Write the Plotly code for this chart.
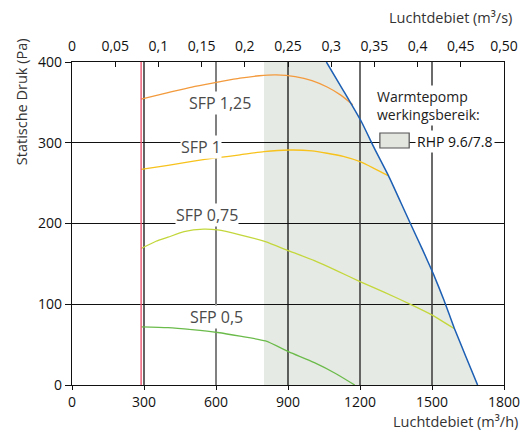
import plotly.graph_objects as go

# ---------------- data ----------------
x_ticks_h = [0, 300, 600, 900, 1200, 1500, 1800]
y_ticks = [0, 100, 200, 300, 400]
x_ticks_s = [0, 0.05, 0.1, 0.15, 0.2, 0.25, 0.3, 0.35, 0.4, 0.45, 0.5]
x_ticks_s_labels = ["0", "0,05", "0,1", "0,15", "0,2", "0,25", "0,3", "0,35", "0,4", "0,45", "0,50"]

grid_x = [300, 600, 900, 1200, 1500]

min_flow = 288

sfp125_x = [288, 400, 500, 607, 700, 780, 850, 930, 1000, 1063, 1120, 1170]
sfp125_y = [354, 362, 369, 375, 380, 383, 384, 382, 377, 369, 359, 347]

sfp1_x = [288, 400, 500, 607, 700, 800, 904, 1000, 1063, 1130, 1200, 1260, 1319]
sfp1_y = [267, 272, 277, 281.5, 285, 289, 291, 290, 287, 283, 276.5, 268, 259]

sfp075_x = [288, 350, 400, 467, 548, 607, 700, 806, 904, 1010, 1100, 1200, 1300, 1417, 1505, 1592]
sfp075_y = [169, 178, 183, 190, 193, 192, 186, 177.5, 166, 154, 142, 128, 115, 99, 86, 70]

sfp05_x = [288, 400, 500, 607, 700, 806, 904, 1010, 1100, 1178]
sfp05_y = [72, 71, 68.5, 65, 60.5, 54.5, 41, 27.6, 14, 0]

max_x = [1060, 1130, 1206, 1260, 1319, 1370, 1410, 1460, 1505, 1550, 1592, 1640, 1690]
max_y = [400, 365, 326, 293, 259, 226, 200, 168, 138, 105, 71, 36, 0]

hp_range_start = 800

sfp_labels = ["SFP 1,25", "SFP 1", "SFP 0,75", "SFP 0,5"]
sfp_label_x = [615, 537, 561, 604]
sfp_label_y = [349, 295, 211, 84]

legend_title = "Warmtepomp<br>werkingsbereik:"
legend_item = "RHP 9.6/7.8"

# ---------------- styles ----------------
FONT = "Open Sans"
TICK_SIZE = 14
col_sfp125 = "#f39a3c"
col_sfp1 = "#f7c21b"
col_sfp075 = "#c3d73c"
col_sfp05 = "#6bbb4b"
col_max = "#1c5fb4"
col_red = "#ea5670"
col_shade = "#e6eae4"
grid_colors = ["#111111", "#808080", "#111111", "#3a3a3a", "#3a3a3a"]
grid_widths = [1.3, 2, 1.3, 1.5, 1.5]

# page has an 8px body margin; figure placed so the plot area sits at x 72..514, y 62..385 of the window
OFF = 8
W, H = 532 - OFF, 432 - OFF
L, T = 72 - OFF, 62 - OFF
PW, PH = 442, 323
R, B = W - L - PW, H - T - PH


def px(xw):
    return (xw - 72) / PW


def py(yw):
    return (385 - yw) / PH


fig = go.Figure()

for xs, ys, c in [(sfp125_x, sfp125_y, col_sfp125), (sfp1_x, sfp1_y, col_sfp1),
                  (sfp075_x, sfp075_y, col_sfp075), (sfp05_x, sfp05_y, col_sfp05)]:
    fig.add_trace(go.Scatter(x=xs, y=ys, mode="lines", line=dict(color=c, width=1.3, shape="spline", smoothing=0.6),
                             showlegend=False, hoverinfo="skip"))

fig.add_trace(go.Scatter(x=max_x, y=max_y, mode="lines", line=dict(color=col_max, width=1.5, shape="spline", smoothing=0.5),
                         showlegend=False, hoverinfo="skip"))

fig.add_trace(go.Scatter(x=[min_flow, min_flow], y=[y_ticks[0], y_ticks[-1]], mode="lines",
                         line=dict(color=col_red, width=1.4), showlegend=False, hoverinfo="skip"))

# invisible trace on top axis so it renders
fig.add_trace(go.Scatter(x=[x_ticks_s[0], x_ticks_s[-1]], y=[0, 0], xaxis="x2", mode="lines",
                         line=dict(width=0), showlegend=False, hoverinfo="skip"))

# shaded operating range (below gridlines)
path = f"M{hp_range_start},{y_ticks[0]} L{hp_range_start},{y_ticks[-1]} "
path += " ".join(f"L{x},{y}" for x, y in zip(max_x, max_y)) + " Z"
fig.add_shape(type="path", path=path, xref="x", yref="y", fillcolor=col_shade,
              line=dict(width=0), layer="below")

for gx, gc, gw in zip(grid_x, grid_colors, grid_widths):
    fig.add_shape(type="line", x0=gx, x1=gx, y0=y_ticks[0], y1=y_ticks[-1], xref="x", yref="y",
                  line=dict(color=gc, width=gw), layer="between")

for t, lx, ly in zip(sfp_labels, sfp_label_x, sfp_label_y):
    fig.add_annotation(x=lx, y=ly, xref="x", yref="y", text=t, showarrow=False,
                       font=dict(family=FONT, size=16, color="#4a4a4a"), bgcolor="white", borderpad=0)

# legend
fig.add_annotation(x=px(382), y=py(105), xref="paper", yref="paper", text=legend_title,
                   showarrow=False, xanchor="left", yanchor="middle", align="left",
                   font=dict(family=FONT, size=14, color="#222"), bgcolor="white")
fig.add_shape(type="rect", xref="paper", yref="paper",
              x0=px(387), x1=px(417), y0=py(148), y1=py(133),
              fillcolor="#e3e5df", line=dict(color="#555", width=1.2), layer="above")
fig.add_annotation(x=px(423), y=py(141), xref="paper", yref="paper", text=legend_item,
                   showarrow=False, xanchor="left", yanchor="middle",
                   font=dict(family=FONT, size=14, color="#111"), bgcolor="white", borderpad=1)

# axis titles
fig.add_annotation(x=px(524), y=py(18), xref="paper", yref="paper", text="Luchtdebiet (m³/s)",
                   showarrow=False, xanchor="right", yanchor="middle", font=dict(family=FONT, size=14.5, color="#333"))
fig.add_annotation(x=px(530), y=py(421), xref="paper", yref="paper", text="Luchtdebiet (m³/h)",
                   showarrow=False, xanchor="right", yanchor="middle", font=dict(family=FONT, size=14.5, color="#333"))
fig.add_annotation(x=px(20), y=py(102), xref="paper", yref="paper", text="Statische Druk (Pa)",
                   showarrow=False, textangle=-90, xanchor="center", yanchor="middle",
                   font=dict(family=FONT, size=14.5, color="#333"))

fig.update_layout(
    width=W, height=H,
    margin=dict(l=L, r=R, t=T, b=B, pad=0),
    plot_bgcolor="white", paper_bgcolor="white",
    font=dict(family=FONT, size=TICK_SIZE, color="#111"),
    xaxis=dict(range=[x_ticks_h[0], x_ticks_h[-1]], tickvals=x_ticks_h, showgrid=False, zeroline=False,
               showline=True, linecolor="#111", linewidth=1.3, ticks="outside", ticklen=4, tickcolor="#111",
               tickfont=dict(family=FONT, size=TICK_SIZE, color="#111")),
    xaxis2=dict(range=[x_ticks_s[0], x_ticks_s[-1]], tickvals=x_ticks_s, ticktext=x_ticks_s_labels,
                overlaying="x", side="top", showgrid=False, zeroline=False, showline=True, linecolor="#111",
                linewidth=1.3, ticks="inside", ticklen=5, tickcolor="#111", ticklabelstandoff=4,
                tickfont=dict(family=FONT, size=TICK_SIZE, color="#111")),
    yaxis=dict(range=[y_ticks[0], y_ticks[-1]], tickvals=y_ticks, showgrid=True, gridcolor="#111", gridwidth=1.2,
               zeroline=False, showline=True, mirror=True, linecolor="#111", linewidth=1.3, ticks="outside",
               ticklen=6, tickcolor="#111", tickfont=dict(family=FONT, size=TICK_SIZE, color="#111")),
)

fig.write_html("out.html")
